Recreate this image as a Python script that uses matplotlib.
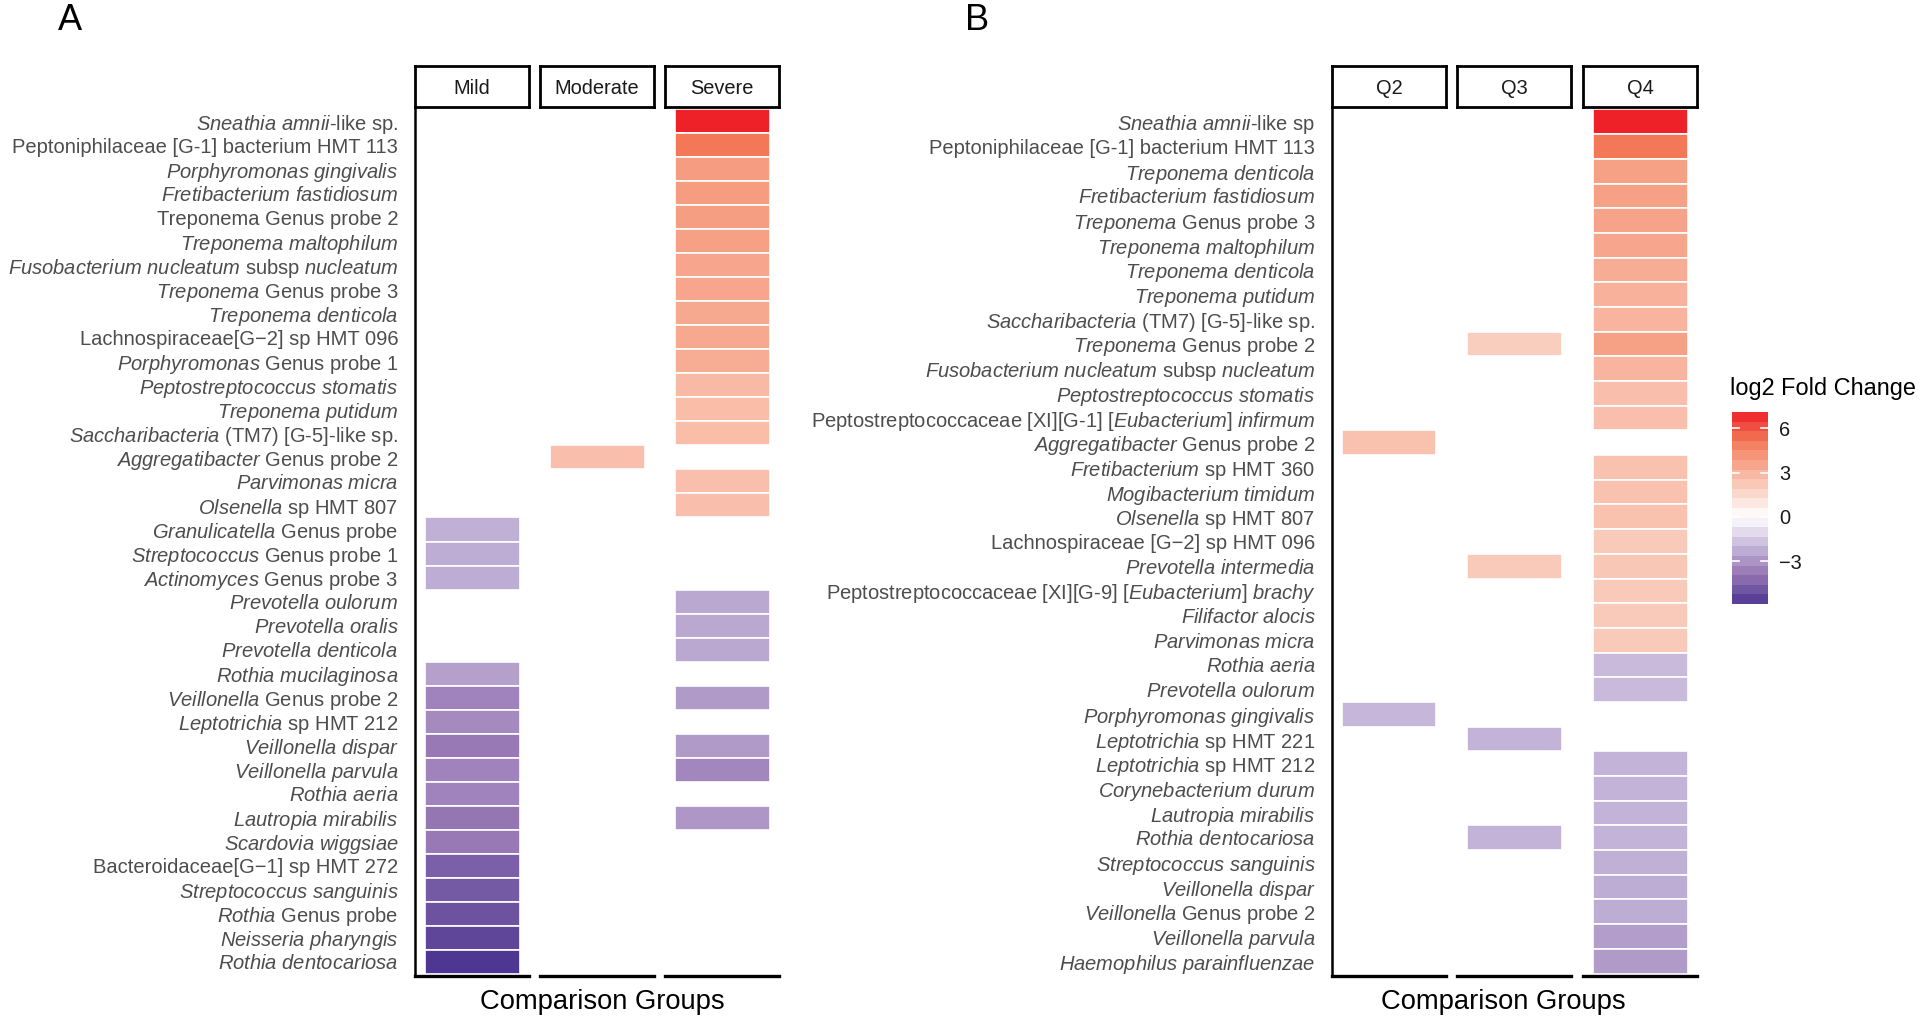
import numpy as np
import matplotlib
matplotlib.use("Agg")
import matplotlib.pyplot as plt
from matplotlib.colors import LinearSegmentedColormap, Normalize

plt.rcParams["font.family"] = ["Liberation Sans", "DejaVu Sans"]
plt.rcParams["mathtext.fontset"] = "custom"
plt.rcParams["mathtext.rm"] = "Liberation Sans"
plt.rcParams["mathtext.it"] = "Liberation Sans:italic"

nan = np.nan

# ---- panel A data (rows top -> bottom), *...* marks italic parts ----
labels_a = [
    "*Sneathia amnii*-like sp.",
    "Peptoniphilaceae [G-1] bacterium HMT 113",
    "*Porphyromonas gingivalis*",
    "*Fretibacterium fastidiosum*",
    "Treponema Genus probe 2",
    "*Treponema maltophilum*",
    "*Fusobacterium nucleatum* subsp *nucleatum*",
    "*Treponema* Genus probe 3",
    "*Treponema denticola*",
    "Lachnospiraceae[G\u22122] sp HMT 096",
    "*Porphyromonas* Genus probe 1",
    "*Peptostreptococcus stomatis*",
    "*Treponema putidum*",
    "*Saccharibacteria* (TM7) [G-5]-like sp.",
    "*Aggregatibacter* Genus probe 2",
    "*Parvimonas micra*",
    "*Olsenella* sp HMT 807",
    "*Granulicatella* Genus probe",
    "*Streptococcus* Genus probe 1",
    "*Actinomyces* Genus probe 3",
    "*Prevotella oulorum*",
    "*Prevotella oralis*",
    "*Prevotella denticola*",
    "*Rothia mucilaginosa*",
    "*Veillonella* Genus probe 2",
    "*Leptotrichia* sp HMT 212",
    "*Veillonella dispar*",
    "*Veillonella parvula*",
    "*Rothia aeria*",
    "*Lautropia mirabilis*",
    "*Scardovia wiggsiae*",
    "Bacteroidaceae[G\u22121] sp HMT 272",
    "*Streptococcus sanguinis*",
    "*Rothia* Genus probe",
    "*Neisseria pharyngis*",
    "*Rothia dentocariosa*",
]
groups_a = ["Mild", "Moderate", "Severe"]
mild = [nan] * 17 + [-2.2, -2.3, -2.3, nan, nan, nan, -2.6, -3.5, -3.3, -3.8,
                     -3.5, -3.5, -3.9, -3.8, -4.6, -4.8, -5.0, -5.4, -5.9]
moderate = [nan] * 14 + [2.6] + [nan] * 21
severe = [7.1, 5.2, 3.9, 3.9, 3.8, 3.7, 3.5, 3.5, 3.4, 3.4, 3.3, 2.8, 2.7, 2.7,
          nan, 2.6, 2.6, nan, nan, nan, -2.4, -2.4, -2.4, nan, -2.8, nan, -2.8,
          -3.4, nan, -2.9, nan, nan, nan, nan, nan, nan]

# ---- panel B data ----
labels_b = [
    "*Sneathia amnii*-like sp",
    "Peptoniphilaceae [G-1] bacterium HMT 113",
    "*Treponema denticola*",
    "*Fretibacterium fastidiosum*",
    "*Treponema* Genus probe 3",
    "*Treponema maltophilum*",
    "*Treponema denticola*",
    "*Treponema putidum*",
    "*Saccharibacteria* (TM7) [G-5]-like sp.",
    "*Treponema* Genus probe 2",
    "*Fusobacterium nucleatum* subsp *nucleatum*",
    "*Peptostreptococcus stomatis*",
    "Peptostreptococcaceae [XI][G-1] *[Eubacterium] infirmum*",
    "*Aggregatibacter* Genus probe 2",
    "*Fretibacterium* sp HMT 360",
    "*Mogibacterium timidum*",
    "*Olsenella* sp HMT 807",
    "Lachnospiraceae [G\u22122] sp HMT 096",
    "*Prevotella intermedia*",
    "Peptostreptococcaceae [XI][G-9] [*Eubacterium*] *brachy*",
    "*Filifactor alocis*",
    "*Parvimonas micra*",
    "*Rothia aeria*",
    "*Prevotella oulorum*",
    "*Porphyromonas gingivalis*",
    "*Leptotrichia* sp HMT 221",
    "*Leptotrichia* sp HMT 212",
    "*Corynebacterium durum*",
    "*Lautropia mirabilis*",
    "*Rothia dentocariosa*",
    "*Streptococcus sanguinis*",
    "*Veillonella dispar*",
    "*Veillonella* Genus probe 2",
    "*Veillonella parvula*",
    "*Haemophilus parainfluenzae*",
]
groups_b = ["Q2", "Q3", "Q4"]
q2 = [nan] * 13 + [2.5] + [nan] * 10 + [-2.0] + [nan] * 10
q3 = ([nan] * 9 + [2.0] + [nan] * 8 + [2.2] + [nan] * 6 + [-2.1]
      + [nan] * 3 + [-2.1] + [nan] * 5)
q4 = [7.1, 5.2, 3.7, 3.7, 3.6, 3.5, 3.3, 3.1, 3.0, 3.7, 3.0, 2.6, 2.6, nan,
      2.5, 2.5, 2.5, 2.2, 2.3, 2.2, 2.2, 2.2, -1.9, -1.9, nan, nan, -2.1,
      -2.1, -2.1, -2.1, -2.2, -2.3, -2.3, -2.7, -2.8]

VMIN, VMAX = -5.9, 7.1
scale_vals = [-5.9, -5.4, -4.6, -3.8, -3.5, -2.8, -2.2, -1.9, 0.0,
              2.1, 2.7, 3.9, 5.25, 7.1]
scale_cols = ["#4E3793", "#614799", "#7C60A8", "#9879B5", "#A083BC", "#B09AC8",
              "#C1B1D7", "#CABBDC", "#FFFFFF",
              "#F9CCBC", "#F9BDA9", "#F69C80", "#F27756", "#EE2128"]
cbar_ticks = [-3, 0, 3, 6]

W, H = 1920, 1026

pos = [(v - VMIN) / (VMAX - VMIN) for v in scale_vals]
cmap = LinearSegmentedColormap.from_list("fc", list(zip(pos, scale_cols)))
norm = Normalize(VMIN, VMAX)


def fmt(label):
    parts = label.split("*")
    out = ""
    for k, p in enumerate(parts):
        if k % 2 == 1 and p:
            out += r"$\mathit{" + p.replace(" ", r"\ ") + "}$"
        else:
            out += p
    return out


def px_axes(fig, x0, y0, x1, y1):
    return fig.add_axes([x0 / W, 1 - y1 / H, (x1 - x0) / W, (y1 - y0) / H])


fig = plt.figure(figsize=(W / 100, H / 100), dpi=100)

PANEL_TOP, PANEL_BOT, STRIP_TOP = 107, 976, 66


def draw_panel(xspans, groups, series, labels):
    n = len(labels)
    for k, ((x0, x1), g, vals) in enumerate(zip(xspans, groups, series)):
        ax = px_axes(fig, x0, PANEL_TOP, x1, PANEL_BOT)
        for i, v in enumerate(vals):
            if np.isnan(v):
                continue
            ax.barh(i, 1.0, left=-0.5, height=1.0, color=cmap(norm(v)),
                    edgecolor="white", linewidth=1.2)
        ax.set_xlim(-0.6, 0.6)
        ax.set_ylim(n - 0.5 + 0.1, -0.5 - 0.1)
        ax.set_xticks([])
        for s in ["top", "right"]:
            ax.spines[s].set_visible(False)
        ax.spines["bottom"].set_linewidth(2.4)
        if k == 0:
            ax.spines["left"].set_linewidth(1.8)
            ax.set_yticks(range(n))
            ax.set_yticklabels([fmt(l) for l in labels], fontsize=14.5,
                               color="#4D4D4D")
            ax.tick_params(axis="y", length=0, pad=12)
        else:
            ax.spines["left"].set_visible(False)
            ax.set_yticks([])
        # facet strip
        sax = px_axes(fig, x0, STRIP_TOP, x1, PANEL_TOP)
        sax.set_xticks([])
        sax.set_yticks([])
        for s in sax.spines.values():
            s.set_linewidth(2.0)
        sax.text(0.5, 0.45, g, ha="center", va="center", fontsize=14.4,
                 color="#1A1A1A", transform=sax.transAxes)


draw_panel([(415, 529), (540, 654), (665, 779)], groups_a,
           [mild, moderate, severe], labels_a)
draw_panel([(1332, 1446), (1457, 1571), (1583, 1697)], groups_b,
           [q2, q3, q4], labels_b)

fig.text(602 / W, 1 - 1002 / H, "Comparison Groups", ha="center", va="center",
         fontsize=19.7)
fig.text(1503 / W, 1 - 1002 / H, "Comparison Groups", ha="center", va="center",
         fontsize=19.7)
fig.text(70 / W, 1 - 21 / H, "A", ha="center", va="center", fontsize=26)
fig.text(977 / W, 1 - 21 / H, "B", ha="center", va="center", fontsize=26)

# ---- colour bar (20 bins) ----
cax = px_axes(fig, 1732, 412, 1768, 604)
bounds = np.linspace(VMIN, VMAX, 21)
mids = (bounds[:-1] + bounds[1:]) / 2
cax.pcolormesh([0, 1], bounds, mids.reshape(-1, 1), cmap=cmap, norm=norm)
for t in cbar_ticks:
    cax.plot([0, 0.2], [t, t], color="white", lw=1.2)
    cax.plot([0.8, 1], [t, t], color="white", lw=1.2)
cax.set_xlim(0, 1)
cax.set_ylim(VMIN, VMAX)
cax.set_xticks([])
cax.yaxis.tick_right()
cax.set_yticks(cbar_ticks)
cax.set_yticklabels([str(t).replace("-", "\u2212") for t in cbar_ticks],
                    fontsize=14.4, color="#1A1A1A")
cax.tick_params(axis="y", length=0, pad=8)
for s in cax.spines.values():
    s.set_visible(False)
fig.text(1730 / W, 1 - 389 / H, "log2 Fold Change", ha="left", va="center",
         fontsize=16.9)

fig.savefig("out.png", dpi=100)
